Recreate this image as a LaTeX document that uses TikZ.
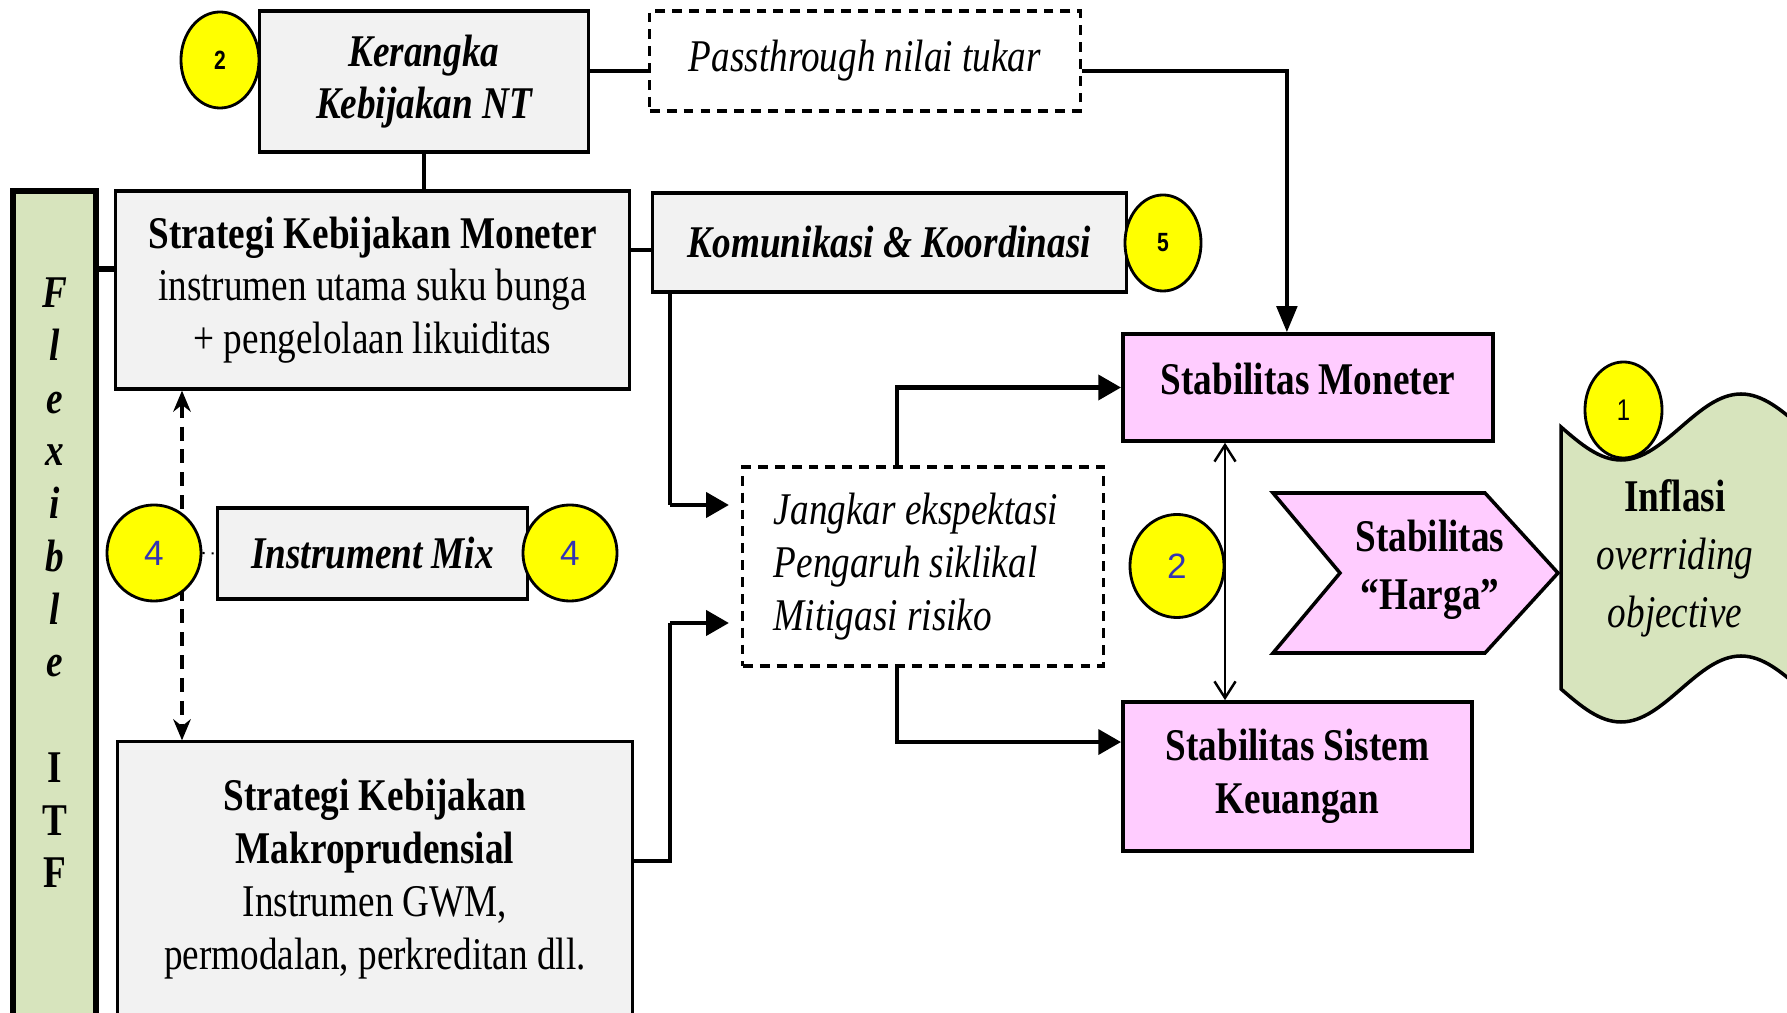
\documentclass[tikz,border=0pt]{standalone}
\usepackage{fontspec}
\setmainfont{Liberation Serif}[FakeStretch=0.82]
\newfontfamily\sanssempit{Liberation Sans}[FakeStretch=0.8]
\newfontfamily\sansbiasa{Liberation Sans}
\usetikzlibrary{arrows.meta, shapes.geometric, calc}
\newcommand{\teksbesar}{\fontsize{12.9pt}{15pt}\selectfont}
\definecolor{abu}{HTML}{F2F2F2}
\definecolor{merahmuda}{HTML}{FFCCFF}
\definecolor{hijau}{HTML}{D7E4BD}
\definecolor{kuning}{HTML}{FFFF00}
\definecolor{biru}{HTML}{3333B3}

\begin{document}
\begin{tikzpicture}[x=0.01cm, y=-0.01cm,
  every node/.style={font=\teksbesar},
  kotak/.style={draw, line width=0.9pt, fill=abu, align=center, inner sep=2pt},
  kotakputus/.style={draw, line width=0.9pt, dash pattern=on 2.8pt off 2pt, fill=white, align=center},
  kotakpink/.style={draw, line width=1pt, fill=merahmuda, align=center},
  bulat/.style={draw, ellipse, line width=0.8pt, fill=kuning, inner sep=0pt},
  angkahitam/.style={font=\sanssempit\bfseries\fontsize{7.5pt}{9pt}\selectfont},
  angkabiru/.style={font=\sansbiasa\fontsize{10pt}{12pt}\selectfont, text=biru},
  garis/.style={line width=0.9pt},
  panah/.style={line width=1.4pt, -{Triangle[length=6.5pt,width=7pt]}},
]
\useasboundingbox (0,0) rectangle (1787,1013);
\clip (0,0) rectangle (1787,1013);

% Kerangka Kebijakan NT dan passthrough
\node[kotak, minimum width=3.28cm, minimum height=1.41cm, font=\teksbesar\bfseries\itshape] (ker) at (424,81.5) {Kerangka\\Kebijakan NT};
\node[kotakputus, minimum width=4.30cm, minimum height=1.00cm, font=\teksbesar\itshape] (pass) at (865,61) {Passthrough nilai tukar};

% Strategi Kebijakan Moneter dan Komunikasi
\node[kotak, minimum width=5.13cm, minimum height=1.98cm] (skm) at (372.5,290) {\textbf{Strategi Kebijakan Moneter}\\instrumen utama suku bunga\\+ pengelolaan likuiditas};
\node[kotak, minimum width=4.73cm, minimum height=0.99cm, font=\teksbesar\bfseries\itshape] (kom) at (889.5,242.5) {Komunikasi \& Koordinasi};

% Batang Flexible ITF
\node[draw, line width=1.6pt, fill=hijau, minimum width=0.83cm, minimum height=8.5cm, inner sep=0pt] (itf) at (54.5,616) {};
\node[font=\teksbesar\bfseries, align=center] (itfteks) at (54.5,583) {\textit{F}\\\textit{l}\\\textit{e}\\\textit{x}\\\textit{i}\\\textit{b}\\\textit{l}\\\textit{e}\\~\\I\\T\\F};

% Instrument Mix dan Makroprudensial
\node[kotak, minimum width=3.09cm, minimum height=0.91cm, font=\teksbesar\bfseries\itshape] (imix) at (372.5,553.5) {Instrument Mix};
\node[kotak, minimum width=5.14cm, minimum height=2.74cm] (skmak) at (375,879) {\textbf{Strategi Kebijakan}\\\textbf{Makroprudensial}\\Instrumen GWM,\\permodalan, perkreditan dll.};

% Jalur transmisi
\node[kotakputus, minimum width=3.60cm, minimum height=1.99cm, text width=2.98cm, align=flush left, font=\teksbesar\itshape] (jang) at (923,566.5) {Jangkar ekspektasi\\Pengaruh siklikal\\Mitigasi risiko};

% Sasaran stabilitas
\node[kotakpink, minimum width=3.70cm, minimum height=1.07cm, text depth=5pt, font=\teksbesar\bfseries] (sm) at (1308,387.5) {Stabilitas Moneter};
\node[kotakpink, minimum width=3.49cm, minimum height=1.49cm, font=\teksbesar\bfseries] (ssk) at (1297.5,776.5) {Stabilitas Sistem\\Keuangan};
\draw[line width=1pt, fill=merahmuda] (1273,493) -- (1485,493) -- (1558,573) -- (1485,653) -- (1273,653) -- (1340,573) -- cycle;
\node[font=\teksbesar\bfseries, align=center] (harga) at (1430,570) {Stabilitas\\[1.5pt]“Harga”};

% Inflasi
\draw[line width=1pt, fill=hijau] (1561,427) sin (1621,460) cos (1681,427) sin (1741,394) cos (1801,427)
  -- (1801,689) sin (1741,656) cos (1681,689) sin (1621,722) cos (1561,689) -- cycle;
\node[align=center] (infl) at (1675,558) {\textbf{Inflasi}\\[1.5pt]\textit{overriding}\\[1.5pt]\textit{objective}};

% Garis penghubung
\coordinate (belok1) at (670,505);
\coordinate (belok2) at (670,623);
\draw[garis] (ker.south) -- (ker.south |- skm.north);
\draw[garis] (ker.east |- 0,71) -- (pass.west |- 0,71);
\draw[line width=1.1pt, -{Triangle[length=7.4pt,width=5.8pt]}] (pass.east |- 0,71) -| ([xshift=-6pt]sm.north);
\draw[line width=1.6pt] (itf.east |- 0,269) -- (skm.west |- 0,269);
\draw[garis] (skm.east |- 0,250) -- (kom.west |- 0,250);
\draw[garis] (kom.south -| belok1) -- (belok1);
\draw[panah, shorten >=3.5pt] (belok1) -- (belok1 -| jang.west);
\draw[line width=1.1pt] ([yshift=5pt]skmak.east) -| (belok2);
\draw[panah, shorten >=3.5pt] (belok2) -- (belok2 -| jang.west);
\draw[panah] ([xshift=-7.4pt]jang.north) |- (sm.west);
\draw[panah] ([xshift=-7.4pt]jang.south) |- ([yshift=9.8pt]ssk.west);
\draw[line width=0.7pt, {Straight Barb[length=4.7pt,width=6pt]}-{Straight Barb[length=4.7pt,width=6pt]}] ([xshift=-23.6pt]sm.south) -- ([xshift=-23.6pt]sm.south |- ssk.north);
\draw[line width=0.9pt, dash pattern=on 4pt off 2.5pt, {Stealth[length=6pt,width=5pt]}-{Stealth[length=6pt,width=5pt]}] (skm.south -| 182,0) -- (skmak.north -| 182,0);

% Nomor
\node[bulat, angkahitam, minimum width=0.78cm, minimum height=0.96cm] (n2a) at (220,60) {2};
\node[bulat, angkahitam, minimum width=0.76cm, minimum height=0.96cm] (n5) at (1163,243) {5};
\node[bulat, minimum width=0.77cm, minimum height=0.96cm, font=\sanssempit\fontsize{8.5pt}{10pt}\selectfont] (n1) at (1623.5,410) {1};
\node[bulat, angkabiru, minimum width=0.94cm, minimum height=0.96cm] (n4a) at (154,553) {4};
\node[bulat, angkabiru, minimum width=0.94cm, minimum height=0.96cm] (n4b) at (570,553) {4};
\node[bulat, angkabiru, minimum width=0.94cm, minimum height=1.03cm] (n2b) at (1177,566) {2};
\draw[dotted, line width=0.6pt] (n4a.east) -- (imix.west);
\end{tikzpicture}
\end{document}
